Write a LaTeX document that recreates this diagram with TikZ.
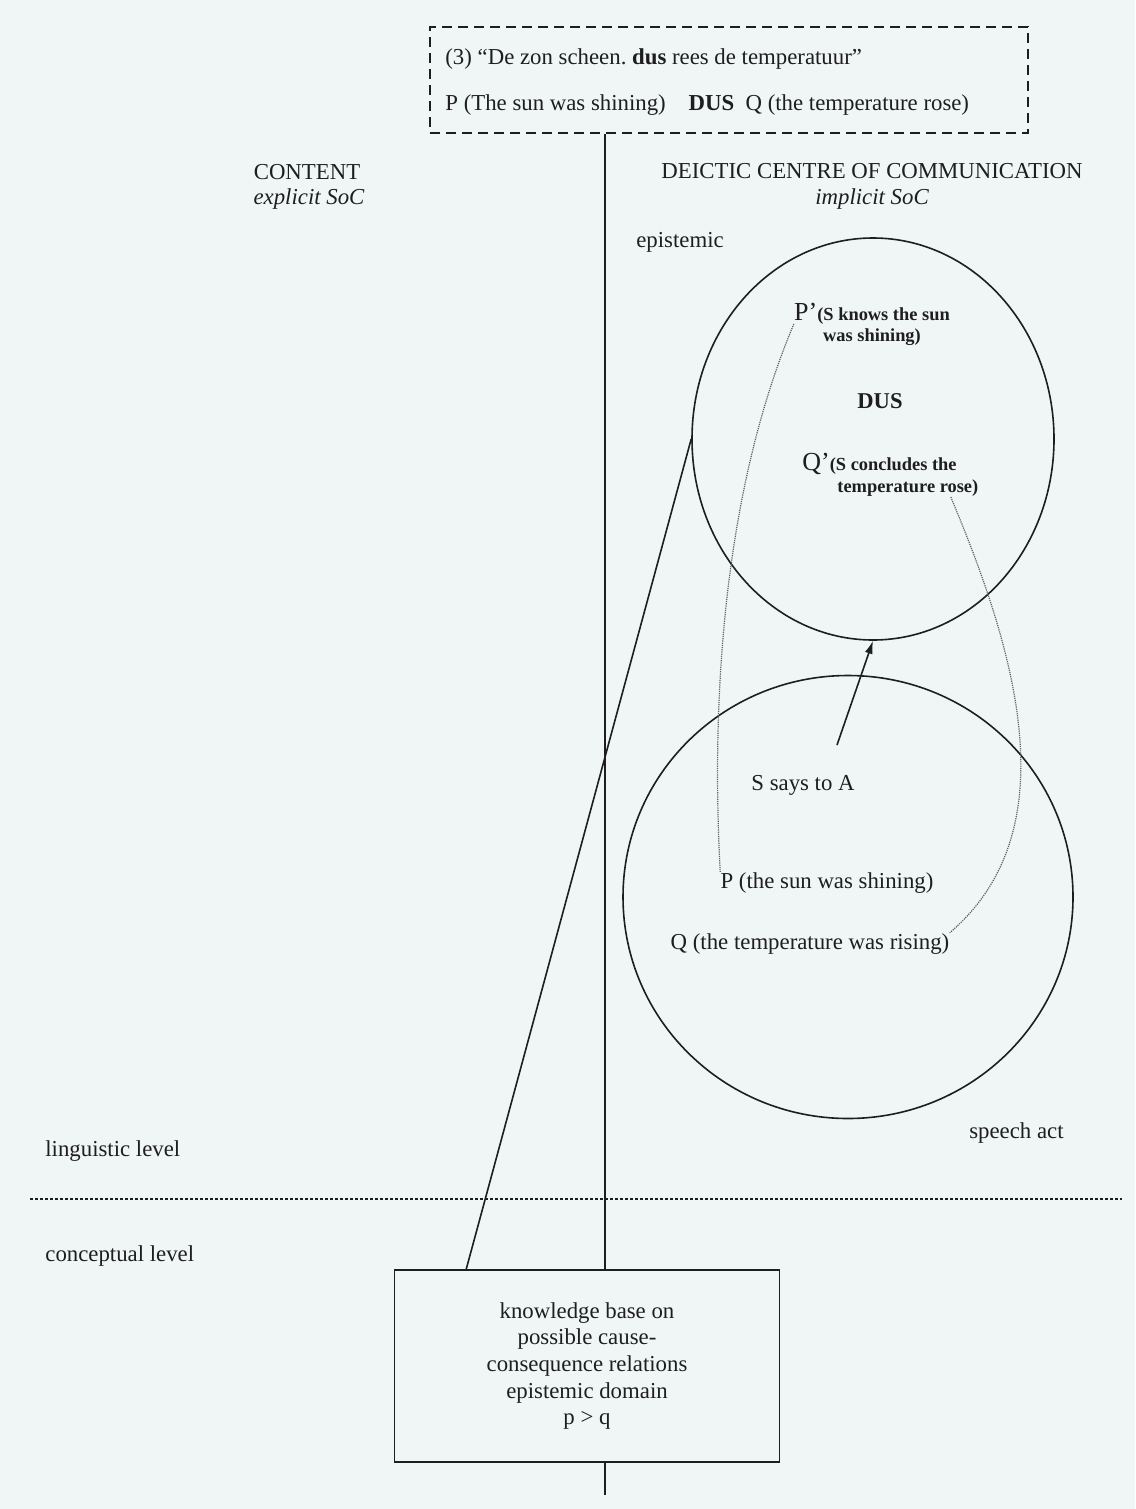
\documentclass[tikz,border=0pt]{standalone}
\usepackage{fontspec}
\setmainfont{Liberation Serif}
\usetikzlibrary{shapes.geometric,arrows.meta}

\definecolor{paper}{RGB}{240,245,245}
\definecolor{ink}{RGB}{30,30,30}

\tikzset{
  lbl/.style={inner sep=0pt, text=ink, font=\fontsize{11.4}{13.3}\selectfont},
  note/.style={inner sep=0pt, text=ink, font=\fontsize{9.2}{10.5}\selectfont\bfseries},
  soc/.style={draw=ink, ellipse, line width=0.8pt, inner sep=0pt},
  frame/.style={draw=ink, line width=0.8pt, inner sep=0pt},
  trace/.style={draw=ink!70, line width=0.6pt, dash pattern=on 0.6pt off 0.5pt},
}
\frenchspacing

\begin{document}
\begin{tikzpicture}[x=0.5pt,y=-0.5pt]
\fill[paper] (0,0) rectangle (1135,1509);
\useasboundingbox (0,0) rectangle (1135,1509);

% example sentence
\node[frame, dash pattern=on 5pt off 3pt, minimum width=299pt, minimum height=53pt] (ex) at (729,80) {};
\node[lbl, anchor=base west] (ex1) at (445,65) {(3) “De zon scheen. \textbf{dus} rees de temperatuur”};
\node[lbl, anchor=base west] (ex2) at (445,111) {P (The sun was shining)\quad\textbf{DUS}\enspace Q (the temperature rose)};

% headings
\node[lbl, anchor=base] (cont) at (307,179) {CONTENT};
\node[lbl, anchor=base] (expl) at (309,204) {\itshape explicit SoC};
\node[lbl, anchor=base] (dcc) at (872,178) {DEICTIC CENTRE OF COMMUNICATION};
\node[lbl, anchor=base] (impl) at (872,204) {\itshape implicit SoC};
\node[lbl, anchor=base] (epi) at (680,247) {epistemic};

% the two circles
\node[soc, minimum width=181pt, minimum height=201pt] (up) at (873,439) {};
\node[soc, minimum width=225pt, minimum height=221.5pt] (low) at (848,897) {};

% inside the upper circle
\node[note, align=center] (pp) at (872,324) {{\fontsize{13}{10.5}\selectfont\mdseries P’}(S knows the sun\\was shining)};
\node[lbl, font=\fontsize{11.3}{13}\selectfont\bfseries, anchor=base] (dus) at (880,408) {DUS};
\node[note, font=\fontsize{9.2}{11}\selectfont\bfseries, align=left, anchor=north west] (qq) at (802,453) {{\fontsize{13}{11}\selectfont\mdseries Q’}(S concludes the\\\hspace*{17.5pt}temperature rose)};

% inside the lower circle
\node[lbl, anchor=base] (sa) at (803,790) {S says to A};
\node[lbl, anchor=base] (p) at (827,888) {P (the sun was shining)};
\node[lbl, anchor=base] (q) at (810,949) {Q (the temperature was rising)};

% levels
\node[lbl, anchor=base west] (ling) at (45,1156) {linguistic level};
\node[lbl, anchor=base east] (spa) at (1064,1138) {speech act};
\node[lbl, anchor=base west] (conc) at (45,1261) {conceptual level};
\draw[ink, line width=0.9pt, dash pattern=on 1.5pt off 1pt] (30,1199) -- (1122,1199);

% knowledge base
\node[frame, lbl, align=center, minimum width=192.5pt, minimum height=96pt] (kb) at (587,1366) {knowledge base on\\possible cause-\\consequence relations\\epistemic domain\\p > q};

% connectors
\coordinate (foot) at (605,1495);
\coordinate (kbl) at (466,1270);
\coordinate (sa0) at (837,745);
\draw[ink, line width=0.8pt] (ex.south -| foot) -- (kb.north -| foot);
\draw[ink, line width=0.8pt] (kb.south -| foot) -- (foot);
\draw[ink, line width=0.8pt] (kbl) -- (up.west);
\draw[ink, line width=0.8pt, -{Latex[length=6.5pt,width=4pt]}] (sa0) -- (up.south);
\draw[trace] (pp.west) .. controls (728,480) and (710,680) .. (p.north west);
\draw[trace] (qq.-20) .. controls (1015,650) and (1070,830) .. (q.north east);
\end{tikzpicture}
\end{document}
